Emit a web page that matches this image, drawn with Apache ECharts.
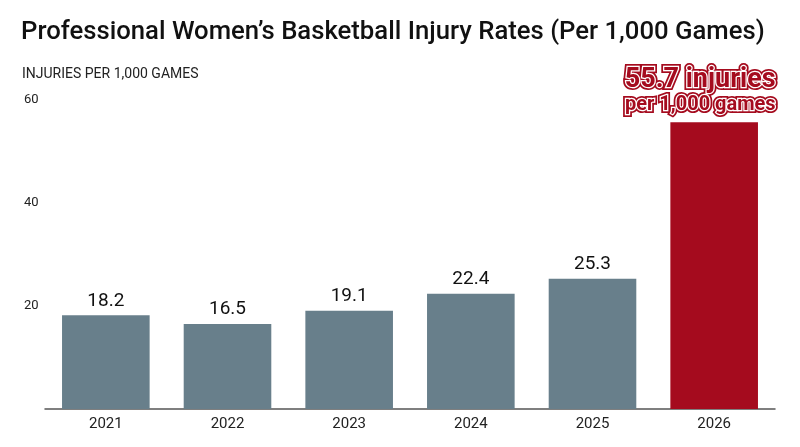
<!DOCTYPE html>
<html lang="en">
<head>
    <meta charset="utf-8"/>
    <title>Professional Women's Basketball Injury Rates</title>
    <script src="https://cdn.jsdelivr.net/npm/echarts@6.0.0/dist/echarts.min.js"></script>
    <style>
        html, body {
            margin: 0;
            height: 100%;
            background: #fff;
        }

        .chart {
            width: 800px;
            height: 447px;
        }
    </style>
</head>
<body>
<div class="chart"></div>
<script>
    const years = ["2021", "2022", "2023", "2024", "2025", "2026"];
    const rates = [18.2, 16.5, 19.1, 22.4, 25.3, 55.7];
    const yTicks = [20, 40, 60];

    const grey = "#687f8b";
    const red = "#a50b1e";
    const last = rates.length - 1;

    const chart = echarts.init(document.querySelector(".chart"));

    const calloutText = (v) => "{a|" + v + " injuries}\n{b|per 1,000 games}";

    let option = {
        animation: false,
        textStyle: {fontFamily: "Roboto"},
        title: [{
            text: "Professional Women’s Basketball Injury Rates (Per 1,000 Games)",
            left: 16,
            top: 15,
            textStyle: {fontSize: 25.7, fontWeight: 500, color: "#111"}
        }, {
            text: "INJURIES PER 1,000 GAMES",
            left: 17,
            top: 62,
            textStyle: {fontSize: 14, fontWeight: 400, color: "#222"}
        }],
        grid: {left: 45, right: 25, top: 100, bottom: 38},
        xAxis: {
            type: "category",
            data: years,
            axisLine: {lineStyle: {color: "#555", width: 1.5}},
            axisTick: {show: false},
            axisLabel: {fontSize: 15, color: "#222", margin: 8}
        },
        yAxis: {
            type: "value",
            min: 0,
            max: 60,
            interval: 20,
            splitLine: {show: false},
            axisLine: {show: false},
            axisLabel: {
                align: "left",
                margin: 21,
                fontSize: 13,
                color: "#222",
                formatter: (v) => yTicks.includes(v) ? String(v) : ""
            }
        },
        series: [{
            type: "bar",
            barCategoryGap: "28%",
            data: rates.map((v, i) => ({
                value: v,
                itemStyle: {color: i === last ? red : grey},
                label: i === last ? {
                    show: true,
                    position: "top",
                    distance: 6,
                    offset: [-14, 0],
                    formatter: calloutText(v),
                    rich: {
                        a: {fontSize: 27, fontWeight: "bold", color: red, align: "right", lineHeight: 27,
                            textBorderColor: red, textBorderWidth: 6},
                        b: {fontSize: 20, fontWeight: "bold", color: red, align: "right", lineHeight: 22,
                            textBorderColor: red, textBorderWidth: 6}
                    }
                } : {
                    show: true,
                    position: "top",
                    distance: 5,
                    fontSize: 19,
                    color: "#111"
                }
            }))
        }, {
            // overlay carrying the inner white outline of the callout
            type: "bar",
            barGap: "-100%",
            barCategoryGap: "28%",
            silent: true,
            itemStyle: {color: "transparent"},
            data: rates.map((v, i) => ({
                value: v,
                label: i === last ? {
                    show: true,
                    position: "top",
                    distance: 6,
                    offset: [-14, 0],
                    formatter: calloutText(v),
                    rich: {
                        a: {fontSize: 27, fontWeight: "bold", color: red, align: "right", lineHeight: 27,
                            textBorderColor: "#fff", textBorderWidth: 2.5},
                        b: {fontSize: 20, fontWeight: "bold", color: red, align: "right", lineHeight: 22,
                            textBorderColor: "#fff", textBorderWidth: 2.5}
                    }
                } : {show: false}
            }))
        }]
    };
    chart.setOption(option);
</script>
</body>
</html>
